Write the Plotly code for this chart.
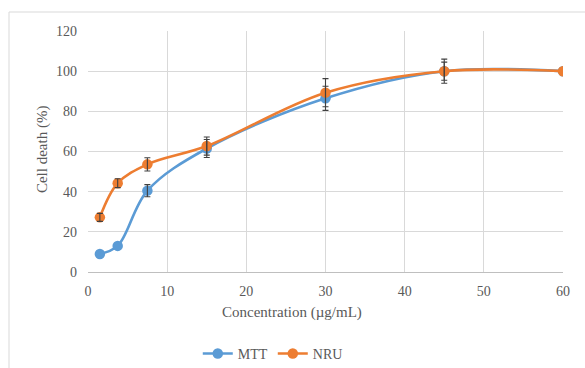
import plotly.graph_objects as go

conc = [1.5, 3.75, 7.5, 15, 30, 45, 60]
mtt = [9, 13, 40.5, 61.5, 86.5, 100, 100]
nru = [27.2, 44.2, 53.6, 62.7, 89.3, 100, 100]
mtt_err = [0, 0, 3, 4.5, 6, 4.5, 0]
nru_err = [2, 2.2, 3.3, 4.5, 7, 6, 0]

BLUE = "#5B9BD5"
ORANGE = "#ED7D31"
FONT = "Liberation Serif, Times New Roman, serif"
GRAY = "#595959"

fig = go.Figure()
fig.add_trace(go.Scatter(x=conc, y=mtt, name="MTT", mode="lines+markers",
                         line=dict(color=BLUE, width=2.6, shape="spline", smoothing=1),
                         marker=dict(color=BLUE, size=10.5)))
fig.add_trace(go.Scatter(x=conc, y=nru, name="NRU", mode="lines+markers",
                         line=dict(color=ORANGE, width=2.6, shape="spline", smoothing=1),
                         marker=dict(color=ORANGE, size=10.5)))
for ys, es in [(mtt, mtt_err), (nru, nru_err)]:
    keep = [i for i, e in enumerate(es) if e > 0]
    fig.add_trace(go.Scatter(x=[conc[i] for i in keep], y=[ys[i] for i in keep],
                             mode="markers", showlegend=False, hoverinfo="skip",
                             marker=dict(size=1, color="rgba(0,0,0,0)"),
                             error_y=dict(type="data", array=[es[i] for i in keep], visible=True,
                                          color="#404040", thickness=1.1, width=3)))

fig.update_layout(
    width=585, height=368,
    margin=dict(l=88, r=22, t=31, b=96, autoexpand=False),
    paper_bgcolor="white", plot_bgcolor="white",
    font=dict(family=FONT, size=14, color=GRAY),
    showlegend=True,
    legend=dict(orientation="h", x=0.389, y=-0.34, xanchor="center", yanchor="middle",
                font=dict(family=FONT, size=14, color=GRAY), itemwidth=30,
                tracegroupgap=0),
    xaxis=dict(range=[0, 60], dtick=10, tick0=0, showgrid=True, gridcolor="#D9D9D9",
               gridwidth=1, zeroline=False, showline=True, linecolor="#BFBFBF",
               ticks="", ticklabelstandoff=6,
               tickfont=dict(family=FONT, size=14, color=GRAY)),
    yaxis=dict(range=[0, 120], dtick=20, tick0=0, showgrid=True, gridcolor="#D9D9D9",
               gridwidth=1, zeroline=False, showline=False, ticks="",
               ticklabelstandoff=10,
               tickfont=dict(family=FONT, size=14, color=GRAY)),
    annotations=[
        dict(text="Concentration (µg/mL)", xref="paper", yref="paper", x=0.4295, y=-0.166,
             showarrow=False, xanchor="center", yanchor="middle",
             font=dict(family=FONT, size=15, color=GRAY)),
        dict(text="Cell death (%)", xref="paper", yref="paper", x=-0.0968, y=0.506,
             showarrow=False, xanchor="center", yanchor="middle", textangle=-90,
             font=dict(family=FONT, size=15, color=GRAY)),
    ],
    shapes=[dict(type="rect", xref="paper", yref="paper", x0=-0.1663, x1=1.1, y0=-0.5, y1=1.0788,
                 line=dict(color="#D9D9D9", width=1), layer="below")],
)

fig.write_html("out.html")
